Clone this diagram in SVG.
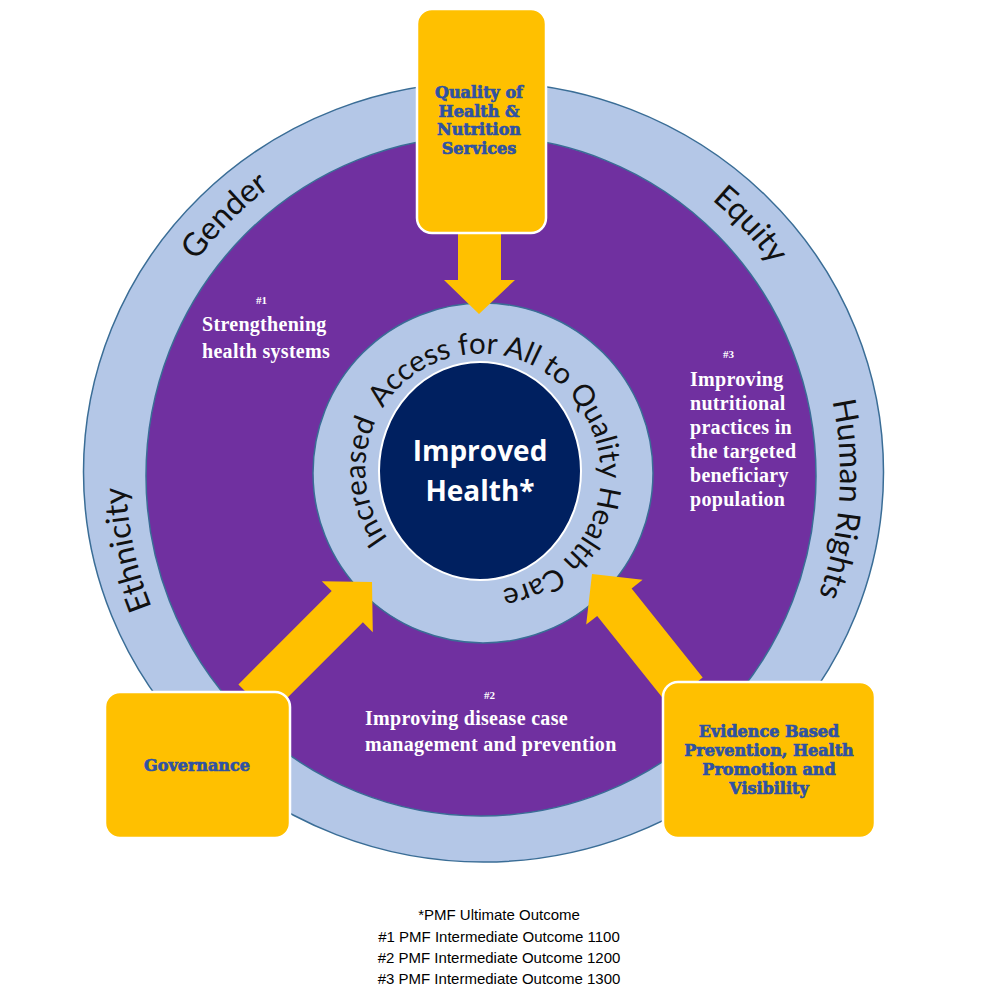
<svg xmlns="http://www.w3.org/2000/svg" width="1000" height="1000" viewBox="0 0 1000 1000">
<style>
.ring{fill:#B4C7E7;stroke:#3A6D96;stroke-width:1.5}
.purple{fill:#7030A0;stroke:#3A6D96;stroke-width:1.5}
.box{fill:#FFC000;stroke:#FFFFFF;stroke-width:2.5}
.arrow{fill:#FFC000}
.boxtxt{font-family:"DejaVu Serif",serif;font-weight:bold;font-size:16px;fill:#2F52A3;stroke:#2F52A3;stroke-width:0.7px;text-anchor:middle}
.ringtxt{font-family:Lato,"Open Sans",sans-serif;font-size:32px;fill:#111111}
.ser{font-family:"Liberation Serif",serif;font-weight:bold;font-size:20px;fill:#FFFFFF;letter-spacing:0.3px}
.num{font-family:"Liberation Serif",serif;font-weight:bold;font-size:11px;fill:#FFFFFF}
.foot{font-family:"Liberation Sans",Arial,sans-serif;font-size:15px;fill:#000000;text-anchor:middle}
.core{font-family:"Open Sans","Noto Sans",sans-serif;font-weight:bold;font-size:28px;fill:#FFFFFF;text-anchor:middle}
</style>
<defs>
<path id="pGender" d="M127.4,442.9 A357,357 0 0,1 451.9,118.4"/>
<path id="pEquity" d="M526.5,119.7 A357,357 0 0,1 839.5,455.3"/>
<path id="pHuman" d="M771.8,264.2 A357,357 0 0,1 739.8,722.0"/>
<path id="pEth" d="M263.2,755.3 A357,357 0 0,1 167.8,306.4"/>
<path id="pInner" d="M388.0,538.5 A116,116 0 1,1 578.0,405.5 A116,116 0 1,1 388.0,538.5"/>
</defs>

<g id="outer-ring">
<ellipse class="ring" cx="483.5" cy="472" rx="400" ry="390"/>
</g>
<g id="purple-ring">
<ellipse class="purple" cx="481" cy="476" rx="335" ry="340"/>
</g>
<g id="inner-ring">
<circle class="ring" cx="483" cy="473" r="170"/>
</g>
<g id="core">
<ellipse cx="480" cy="471" rx="101" ry="109" fill="#002060" stroke="#FFFFFF" stroke-width="2"/>
<text class="core" x="480" y="461">Improved</text>
<text class="core" x="480" y="501">Health*</text>
</g>

<g id="ring-labels" class="ringtxt">
<text><textPath href="#pGender" startOffset="50%" text-anchor="middle">Gender</textPath></text>
<text><textPath href="#pEquity" startOffset="50%" text-anchor="middle">Equity</textPath></text>
<text><textPath href="#pHuman" startOffset="50%" text-anchor="middle">Human Rights</textPath></text>
<text><textPath href="#pEth" startOffset="50%" text-anchor="middle">Ethnicity</textPath></text>
</g>
<g id="access-label">
<text font-family="Lato,'Open Sans',sans-serif" font-size="29.5" fill="#111111" xml:space="preserve"><textPath href="#pInner">Increased  Access for All to Quality Health Care</textPath></text>
</g>

<g id="outcome-1">
<text class="num" x="256" y="304">#1</text>
<text class="ser"><tspan x="202" y="331">Strengthening</tspan><tspan x="202" y="358">health systems</tspan></text>
</g>
<g id="outcome-2">
<text class="num" x="484" y="699">#2</text>
<text class="ser"><tspan x="365" y="725">Improving disease case</tspan><tspan x="365" y="751">management and prevention</tspan></text>
</g>
<g id="outcome-3">
<text class="num" x="723" y="358">#3</text>
<text class="ser"><tspan x="690" y="386">Improving</tspan><tspan x="690" y="410">nutritional</tspan><tspan x="690" y="434">practices in</tspan><tspan x="690" y="458">the targeted</tspan><tspan x="690" y="482">beneficiary</tspan><tspan x="690" y="506">population</tspan></text>
</g>

<g id="connectors">
<polygon class="arrow" points="458,228 501,228 501,280 515,280 479,314 444,280 458,280"/>
<polygon class="arrow" points="372,582 372.8,632.2 362.9,622.3 269.6,715.6 238.4,684.4 331.7,591.1 321.8,581.2"/>
<polygon class="arrow" points="592,574 642.6,579.8 631.6,588.5 702.7,677.6 668.3,705.0 597.2,615.9 586.2,624.6"/>
</g>

<g id="node-quality">
<rect class="box" x="417" y="9" width="129" height="224" rx="15"/>
<text class="boxtxt"><tspan x="479" y="98">Quality of</tspan><tspan x="479" y="117">Health &amp;</tspan><tspan x="479" y="135">Nutrition</tspan><tspan x="479" y="154">Services</tspan></text>
</g>
<g id="node-governance">
<rect class="box" x="105" y="692" width="185" height="146" rx="15"/>
<text class="boxtxt" x="197" y="771">Governance</text>
</g>
<g id="node-evidence">
<rect class="box" x="663" y="682" width="212" height="156" rx="15"/>
<text class="boxtxt"><tspan x="769" y="737">Evidence Based</tspan><tspan x="769" y="756">Prevention, Health</tspan><tspan x="769" y="775">Promotion and</tspan><tspan x="769" y="794">Visibility</tspan></text>
</g>

<g id="footnotes">
<text class="foot" x="499" y="920">*PMF Ultimate Outcome</text>
<text class="foot" x="499" y="942">#1 PMF Intermediate Outcome 1100</text>
<text class="foot" x="499" y="963">#2 PMF Intermediate Outcome 1200</text>
<text class="foot" x="499" y="984">#3 PMF Intermediate Outcome 1300</text>
</g>
</svg>
